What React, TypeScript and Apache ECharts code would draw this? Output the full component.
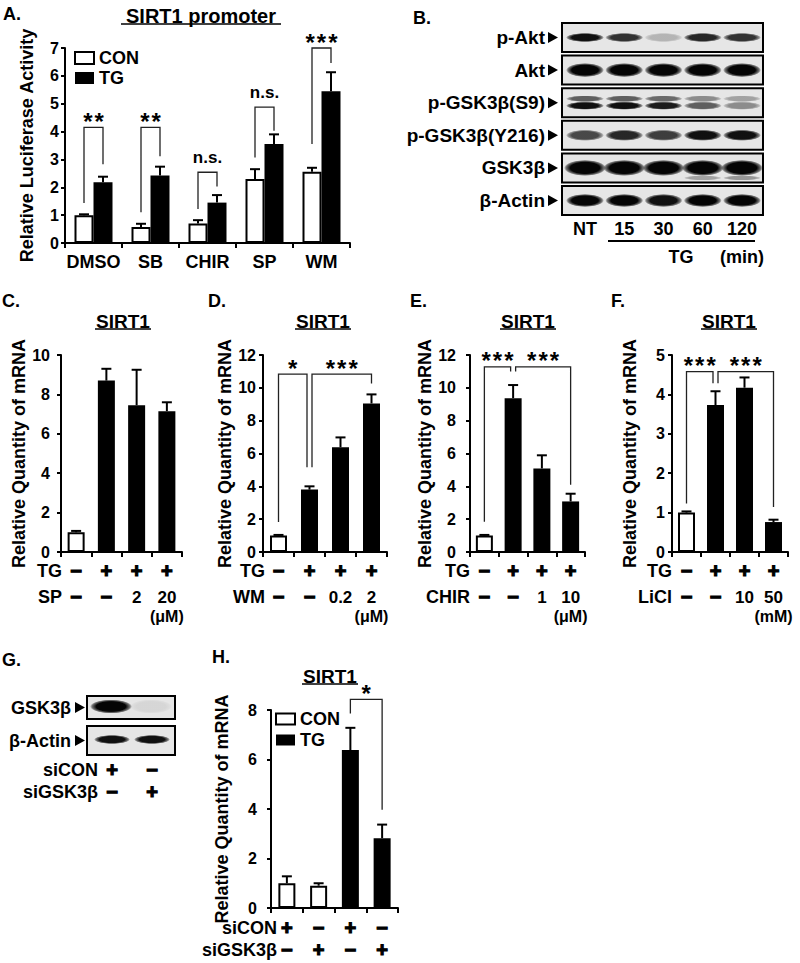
import React, { useEffect, useRef } from 'react';
import * as echarts from 'echarts';

const FF = '"Liberation Sans", Arial, Helvetica, sans-serif';

// ---------- Panel A : SIRT1 promoter ----------
const aCategories = ['DMSO', 'SB', 'CHIR', 'SP', 'WM'];
const aConValues = [1.0, 0.57, 0.7, 2.3, 2.56];
const aConErrors = [0.03, 0.12, 0.12, 0.35, 0.14];
const aTgValues = [2.18, 2.42, 1.45, 3.55, 5.45];
const aTgErrors = [0.2, 0.32, 0.27, 0.35, 0.68];
// [category, bracket top, CON leg end, TG leg end, label]
const aSignificance: [number, number, number, number, string][] = [
  [0, 4.15, 1.44, 2.83, '**'],
  [1, 4.15, 1.1, 3.11, '**'],
  [2, 2.54, 1.22, 2.03, 'n.s.'],
  [3, 4.88, 3.07, 4.03, 'n.s.'],
  [4, 7.0, 3.55, 6.46, '***'],
];

// ---------- Panel B : western blot ----------
const bLanes = ['NT', '15', '30', '60', '120'];
const bProteins = ['p-Akt', 'Akt', 'p-GSK3β(S9)', 'p-GSK3β(Y216)', 'GSK3β', 'β-Actin'];
const bBandIntensity = [
  [0.95, 0.8, 0.22, 0.85, 0.8],
  [1, 1, 1, 1, 1],
  [0.95, 0.95, 0.9, 0.6, 0.4],
  [0.7, 0.85, 0.75, 0.95, 0.95],
  [1, 1, 1, 1, 1],
  [1, 1, 0.95, 1, 1],
];
const bS9UpperIntensity = [0.6, 0.6, 0.55, 0.4, 0.3];
const bGskLowerIntensity = [0, 0, 0, 0.3, 0.35];

// ---------- Panel C ----------
const cValues = [1.0, 8.7, 7.45, 7.15];
const cErrors = [0.07, 0.6, 1.8, 0.45];
const cTG = ['−', '+', '+', '+'];
const cSP = ['−', '−', '2', '20'];

// ---------- Panel D ----------
const dValues = [1.0, 3.8, 6.38, 9.05];
const dErrors = [0.04, 0.2, 0.6, 0.55];
const dTG = ['−', '+', '+', '+'];
const dWM = ['−', '−', '0.2', '2'];
// [left bar, right bar, top, left leg end, right leg end, label]
const dSignificance: [number, number, number, number, number, string][] = [
  [0, 1, 10.83, 1.82, 5.16, '*'],
  [1, 3, 10.83, 5.16, 10.26, '***'],
];

// ---------- Panel E ----------
const eValues = [1.0, 9.37, 5.09, 3.08];
const eErrors = [0.04, 0.8, 0.8, 0.47];
const eTG = ['−', '+', '+', '+'];
const eCHIR = ['−', '−', '1', '10'];
const eSignificance: [number, number, number, number, number, string][] = [
  [0, 1, 11.28, 1.85, 11.0, '***'],
  [1, 3, 11.28, 11.0, 4.1, '***'],
];

// ---------- Panel F ----------
const fValues = [1.0, 3.73, 4.17, 0.76];
const fErrors = [0.03, 0.35, 0.26, 0.06];
const fTG = ['−', '+', '+', '+'];
const fLiCl = ['−', '−', '10', '50'];
const fSignificance: [number, number, number, number, number, string][] = [
  [0, 1, 4.58, 1.23, 4.28, '***'],
  [1, 3, 4.58, 4.28, 1.14, '***'],
];

// ---------- Panel G : knock-down blot ----------
const gProteins = ['GSK3β', 'β-Actin'];
const gBandIntensity = [
  [1, 0.07],
  [0.95, 0.95],
];
const gSiCON = ['+', '−'];
const gSiGSK = ['−', '+'];

// ---------- Panel H ----------
const hConValues = [1.0, 0.9, null, null];
const hTgValues = [null, null, 6.38, 2.82];
const hErrors = [0.28, 0.1, 0.9, 0.55];
const hSiCON = ['+', '−', '+', '−'];
const hSiGSK = ['−', '+', '−', '+'];
const hSignificance: [number, number, number, number, number, string][] = [
  [2, 3, 8.43, 7.86, 3.97, '*'],
];

// ---------- styles ----------
const lineStyle = { color: '#000', width: 2 };
const whiteBar = { color: '#fff', borderColor: '#000', borderWidth: 2 };
const blackBar = { color: '#000' };
const isSym = (s: string) => s === '+' || s === '−';
const SYM = 20;
const LBL = 18;

function valueAxis(gridIndex: number, max: number, interval: number, name: string, nameGap: number, margin: number) {
  return {
    type: 'value',
    gridIndex,
    min: 0,
    max,
    interval,
    name,
    nameLocation: 'middle',
    nameGap,
    nameTextStyle: { fontFamily: FF, fontSize: 18, fontWeight: 'bold', color: '#000' },
    axisLine: { show: true, lineStyle },
    axisTick: { show: true, length: 4, lineStyle },
    axisLabel: { fontFamily: FF, fontSize: 16, fontWeight: 'bold', color: '#000', margin },
    splitLine: { show: false },
  };
}

function treatmentAxis(gridIndex: number, row1: string[], row2: string[], unit: string, lh1: number, lh2: number, margin: number) {
  const base = { fontFamily: FF, fontWeight: 'bold', color: '#000' };
  const sym = { ...base, fontSize: SYM, textBorderColor: '#000', textBorderWidth: 1.2 };
  return {
    type: 'category',
    gridIndex,
    data: row1.map((_, i) => String(i + 1)),
    axisLine: { show: true, lineStyle },
    axisTick: { show: true, length: 5, lineStyle },
    axisLabel: {
      interval: 0,
      margin,
      formatter: (_v: string, i: number) =>
        `{s1|${row1[i]}}\n{${isSym(row2[i]) ? 's2' : 'n2'}|${row2[i]}}` +
        (unit && i === row1.length - 1 ? `\n{u|${unit}}` : ''),
      rich: {
        s1: { ...sym, lineHeight: lh1 },
        s2: { ...sym, lineHeight: lh2 },
        n2: { ...base, fontSize: 17, lineHeight: lh2 },
        u: { ...base, fontSize: 16, lineHeight: 10 },
      },
    },
  };
}

function barData(values: number[]) {
  return values.map((v, i) => ({ value: v, itemStyle: i === 0 ? whiteBar : blackBar }));
}

function errorSeries(axis: number, values: (number | null)[], errors: number[], offset: number) {
  const data: number[][] = [];
  values.forEach((v, i) => {
    if (v != null) data.push([i, v, errors[i]]);
  });
  return {
    type: 'custom',
    xAxisIndex: axis,
    yAxisIndex: axis,
    z: 3,
    silent: true,
    data,
    renderItem: (_p: any, api: any) => {
      const i = api.value(0);
      const v = api.value(1);
      const e = api.value(2);
      const b = api.coord([i, v]);
      const t = api.coord([i, v + e]);
      const x = b[0] + offset;
      return {
        type: 'group',
        children: [
          { type: 'line', shape: { x1: x, y1: b[1], x2: x, y2: t[1] }, style: { stroke: '#000', lineWidth: 2 } },
          { type: 'line', shape: { x1: x - 5, y1: t[1], x2: x + 5, y2: t[1] }, style: { stroke: '#000', lineWidth: 2 } },
        ],
      };
    },
  };
}

type Bracket = { lc: number; lo: number; rc: number; ro: number; top: number; le: number; re: number; label: string };

function betweenBars(list: [number, number, number, number, number, string][]): Bracket[] {
  return list.map(([l, r, top, le, re, label]) => ({
    lc: l,
    rc: r,
    top,
    le,
    re,
    label,
    lo: list.some((o) => o[1] === l) ? 2.5 : 0,
    ro: list.some((o) => o[0] === r) ? -2.5 : 0,
  }));
}

function withinGroup(list: [number, number, number, number, string][], half: number): Bracket[] {
  return list.map(([c, top, le, re, label]) => ({ lc: c, rc: c, lo: -half, ro: half, top, le, re, label }));
}

function bracketSeries(axis: number, brackets: Bracket[]) {
  return {
    type: 'custom',
    xAxisIndex: axis,
    yAxisIndex: axis,
    z: 4,
    silent: true,
    data: brackets.map((b) => [b.lc, b.top]),
    renderItem: (params: any, api: any) => {
      const b = brackets[params.dataIndex];
      const xl = api.coord([b.lc, b.top])[0] + b.lo;
      const xr = api.coord([b.rc, b.top])[0] + b.ro;
      const yt = api.coord([b.lc, b.top])[1];
      const yl = api.coord([b.lc, b.le])[1];
      const yr = api.coord([b.rc, b.re])[1];
      const star = b.label.indexOf('*') >= 0;
      return {
        type: 'group',
        children: [
          {
            type: 'polyline',
            shape: { points: [[xl, yl], [xl, yt], [xr, yt], [xr, yr]] },
            style: { stroke: '#222', lineWidth: 1.3, fill: 'none' },
          },
          {
            type: 'text',
            x: (xl + xr) / 2,
            y: yt - (star ? 6 : 15),
            style: {
              text: star ? b.label.split('').join('\u200A') : b.label,
              fill: '#000',
              fontFamily: FF,
              fontWeight: 'bold',
              fontSize: star ? 24 : 17,
              align: 'center',
              verticalAlign: 'middle',
            },
          },
        ],
      };
    },
  };
}

// ---------- graphic helpers ----------
function txt(text: string, x: number, y: number, size: number, align = 'center', heavy = 0) {
  return {
    type: 'text',
    x,
    y,
    silent: true,
    style: {
      text,
      fill: '#000',
      stroke: heavy ? '#000' : undefined,
      lineWidth: heavy || undefined,
      fontFamily: FF,
      fontSize: size,
      fontWeight: 'bold',
      lineHeight: size,
      align,
      verticalAlign: 'middle',
      textAlign: align,
      textVerticalAlign: 'middle',
    },
  };
}

function underlinedTitle(text: string, cx: number, cy: number, half: number, size = 19) {
  return [
    txt(text, cx, cy, size),
    { type: 'line', silent: true, shape: { x1: cx - half, y1: cy + 8, x2: cx + half, y2: cy + 8 }, style: { stroke: '#000', lineWidth: 1.5 } },
  ];
}

function band(cx: number, cy: number, rx: number, ry: number, a: number) {
  return {
    type: 'ellipse',
    silent: true,
    shape: { cx, cy, rx, ry },
    style: {
      fill: new echarts.graphic.RadialGradient(0.5, 0.5, 0.5, [
        { offset: 0, color: `rgba(5,5,5,${a})` },
        { offset: 0.7, color: `rgba(5,5,5,${a})` },
        { offset: 0.9, color: `rgba(5,5,5,${a * 0.5})` },
        { offset: 1, color: 'rgba(5,5,5,0)' },
      ]),
    },
  };
}

function arrowHead(x: number, cy: number) {
  return {
    type: 'polygon',
    silent: true,
    shape: { points: [[x, cy - 5.5], [x, cy + 5.5], [x + 10, cy]] },
    style: { fill: '#000' },
  };
}

function blotBox(x: number, y: number, w: number, h: number) {
  return { type: 'rect', silent: true, shape: { x, y, width: w, height: h }, style: { fill: '#e6e6e6', stroke: 'none' } };
}
function blotFrame(x: number, y: number, w: number, h: number) {
  return { type: 'rect', silent: true, shape: { x, y, width: w, height: h }, style: { fill: 'none', stroke: '#000', lineWidth: 2 } };
}

function buildGraphics() {
  const els: any[] = [];
  // panel letters
  els.push(txt('A.', 3, 14, 18, 'left'));
  els.push(txt('B.', 413, 18, 18, 'left'));
  els.push(txt('C.', 2, 301, 18, 'left'));
  els.push(txt('D.', 208, 301, 18, 'left'));
  els.push(txt('E.', 410, 301, 18, 'left'));
  els.push(txt('F.', 611, 301, 18, 'left'));
  els.push(txt('G.', 2, 660, 18, 'left'));
  els.push(txt('H.', 212, 657, 18, 'left'));
  // titles
  els.push(...underlinedTitle('SIRT1 promoter', 201, 16, 80, 20));
  els.push(...underlinedTitle('SIRT1', 123, 321, 28));
  els.push(...underlinedTitle('SIRT1', 323, 321, 28));
  els.push(...underlinedTitle('SIRT1', 528, 321, 28));
  els.push(...underlinedTitle('SIRT1', 729, 321, 28));
  els.push(...underlinedTitle('SIRT1', 330, 676, 28));

  // Panel B blot
  const bx = 562;
  const bw = 201;
  const bh = 29;
  const rowTop = (r: number) => 23 + r * 32.6;
  const laneX = (i: number) => 585 + i * 39.25;
  const halfH = [4.5, 7, 0, 5.5, 8, 6.5];
  bProteins.forEach((p, r) => {
    const y = rowTop(r);
    const cy = y + bh / 2;
    els.push(blotBox(bx, y, bw, bh));
    bLanes.forEach((_l, i) => {
      const cx = laneX(i);
      if (r === 2) {
        els.push(band(cx, cy - 4, 19, 3.2, bS9UpperIntensity[i]));
        els.push(band(cx, cy + 3, 19, 4, bBandIntensity[r][i]));
      } else {
        els.push(band(cx, cy, r === 4 ? 21 : 19, halfH[r], bBandIntensity[r][i]));
        if (r === 4 && bGskLowerIntensity[i] > 0) els.push(band(cx, cy + 10, 19, 2.5, bGskLowerIntensity[i]));
      }
    });
    els.push(blotFrame(bx, y, bw, bh));
    els.push(txt(p, 545, cy, 19, 'right'));
    els.push(arrowHead(548, cy));
  });
  bLanes.forEach((l, i) => els.push(txt(l, laneX(i), 229, LBL)));
  els.push({ type: 'line', silent: true, shape: { x1: 608, y1: 241, x2: 755, y2: 241 }, style: { stroke: '#000', lineWidth: 2 } });
  els.push(txt('TG', 681, 257, LBL));
  els.push(txt('(min)', 742, 257, LBL));

  // row titles C-F
  const rows: [number, string][] = [
    [62, 'SP'],
    [265, 'WM'],
    [470, 'CHIR'],
    [672, 'LiCl'],
  ];
  rows.forEach(([x, name]) => {
    els.push(txt('TG', x, 571, LBL, 'right'));
    els.push(txt(name, x, 597, LBL, 'right'));
  });
  // row titles H
  els.push(txt('siCON', 277, 928, LBL, 'right'));
  els.push(txt('siGSK3β', 277, 950, LBL, 'right'));

  // Panel G blot
  const gx = 87;
  const gw = 88;
  const gBoxes = [
    [696, 23],
    [726, 29],
  ];
  const gLane = (i: number) => 112 + i * 40;
  gProteins.forEach((p, r) => {
    const [y, h] = gBoxes[r];
    const cy = y + h / 2;
    els.push(blotBox(gx, y, gw, h));
    gBandIntensity[r].forEach((a, i) => {
      if (r === 0) els.push(band(gLane(i) - 1, cy - 1, 21, 7, a));
      else els.push(band(gLane(i), cy - 1, 18, 4.5, a));
    });
    els.push(blotFrame(gx, y, gw, h));
    els.push(txt(p, 71, cy, LBL, 'right'));
    els.push(arrowHead(75, cy));
  });
  els.push(txt('siCON', 98, 770, LBL, 'right'));
  els.push(txt('siGSK3β', 98, 792, LBL, 'right'));
  gSiCON.forEach((s, i) => els.push(txt(s, gLane(i), 770, SYM, 'center', 1.2)));
  gSiGSK.forEach((s, i) => els.push(txt(s, gLane(i), 792, SYM, 'center', 1.2)));
  return els;
}

function buildOption() {
  const grids = [
    { left: 65, top: 48, width: 285, height: 195 },
    { left: 61, top: 355, width: 121, height: 197 },
    { left: 263, top: 355, width: 124, height: 197 },
    { left: 470, top: 355, width: 115, height: 197 },
    { left: 672, top: 355, width: 116, height: 197 },
    { left: 271, top: 710, width: 127, height: 198 },
  ];
  const xAxis = [
    {
      type: 'category',
      gridIndex: 0,
      data: aCategories,
      axisLine: { show: true, lineStyle },
      axisTick: { show: true, length: 5, lineStyle },
      axisLabel: { interval: 0, margin: 10, fontFamily: FF, fontSize: LBL, fontWeight: 'bold', color: '#000' },
    },
    treatmentAxis(1, cTG, cSP, '(μM)', 24, 28, 7),
    treatmentAxis(2, dTG, dWM, '(μM)', 24, 28, 7),
    treatmentAxis(3, eTG, eCHIR, '(μM)', 24, 28, 7),
    treatmentAxis(4, fTG, fLiCl, '(mM)', 24, 28, 7),
    treatmentAxis(5, hSiCON, hSiGSK, '', 22, 22, 9),
  ];
  const yAxis = [
    valueAxis(0, 7, 1, 'Relative Luciferase Activity', 29, 6),
    valueAxis(1, 10, 2, 'Relative Quantity of mRNA', 31, 11),
    valueAxis(2, 12, 2, 'Relative Quantity of mRNA', 24, 7),
    valueAxis(3, 12, 2, 'Relative Quantity of mRNA', 36, 14),
    valueAxis(4, 5, 1, 'Relative Quantity of mRNA', 33, 7),
    valueAxis(5, 8, 2, 'Relative Quantity of mRNA', 40, 14),
  ];
  const hBarWidth = 17;
  const series: any[] = [
    // A
    { type: 'bar', name: 'CON', xAxisIndex: 0, yAxisIndex: 0, barWidth: 19, barGap: '0%', data: aConValues, itemStyle: whiteBar },
    { type: 'bar', name: 'TG', xAxisIndex: 0, yAxisIndex: 0, barWidth: 19, barGap: '0%', data: aTgValues, itemStyle: blackBar },
    errorSeries(0, aConValues, aConErrors, -9.5),
    errorSeries(0, aTgValues, aTgErrors, 9.5),
    bracketSeries(0, withinGroup(aSignificance, 9.5)),
    // C
    { type: 'bar', name: 'C', xAxisIndex: 1, yAxisIndex: 1, barWidth: hBarWidth, data: barData(cValues) },
    errorSeries(1, cValues, cErrors, 0),
    // D
    { type: 'bar', name: 'D', xAxisIndex: 2, yAxisIndex: 2, barWidth: hBarWidth, data: barData(dValues) },
    errorSeries(2, dValues, dErrors, 0),
    bracketSeries(2, betweenBars(dSignificance)),
    // E
    { type: 'bar', name: 'E', xAxisIndex: 3, yAxisIndex: 3, barWidth: hBarWidth, data: barData(eValues) },
    errorSeries(3, eValues, eErrors, 0),
    bracketSeries(3, betweenBars(eSignificance)),
    // F
    { type: 'bar', name: 'F', xAxisIndex: 4, yAxisIndex: 4, barWidth: hBarWidth, data: barData(fValues) },
    errorSeries(4, fValues, fErrors, 0),
    bracketSeries(4, betweenBars(fSignificance)),
    // H
    {
      type: 'bar', name: 'CON', xAxisIndex: 5, yAxisIndex: 5, barWidth: hBarWidth, barGap: '-100%',
      data: hConValues.map((v) => (v == null ? '-' : v)), itemStyle: whiteBar,
    },
    {
      type: 'bar', name: 'TG', xAxisIndex: 5, yAxisIndex: 5, barWidth: hBarWidth, barGap: '-100%',
      data: hTgValues.map((v) => (v == null ? '-' : v)), itemStyle: blackBar,
    },
    errorSeries(5, hConValues.map((v, i) => (v == null ? hTgValues[i] : v)), hErrors, 0),
    bracketSeries(5, betweenBars(hSignificance)),
  ];
  const legendText = { fontFamily: FF, fontSize: 18, fontWeight: 'bold', color: '#000', lineHeight: 13 };
  return {
    animation: false,
    backgroundColor: '#fff',
    grid: grids,
    xAxis,
    yAxis,
    legend: [
      { left: 74, top: 49, padding: 0, orient: 'vertical', icon: 'rect', itemWidth: 19, itemHeight: 12, itemGap: 2, selectedMode: false, data: ['CON', 'TG'], textStyle: legendText },
      { left: 275, top: 710, padding: 0, orient: 'vertical', icon: 'rect', itemWidth: 19, itemHeight: 11, itemGap: 3, selectedMode: false, data: ['CON', 'TG'], textStyle: legendText },
    ],
    series,
    graphic: buildGraphics(),
  };
}

export default function App() {
  const ref = useRef<HTMLDivElement>(null);
  useEffect(() => {
    document.body.style.margin = '0';
    const chart = echarts.init(ref.current as HTMLDivElement, null, { renderer: 'svg', width: 800, height: 963 });
    chart.setOption(buildOption() as any);
    return () => chart.dispose();
  }, []);
  return <div ref={ref} style={{ position: 'absolute', left: 0, top: 0, width: 800, height: 963, background: '#fff' }} />;
}
